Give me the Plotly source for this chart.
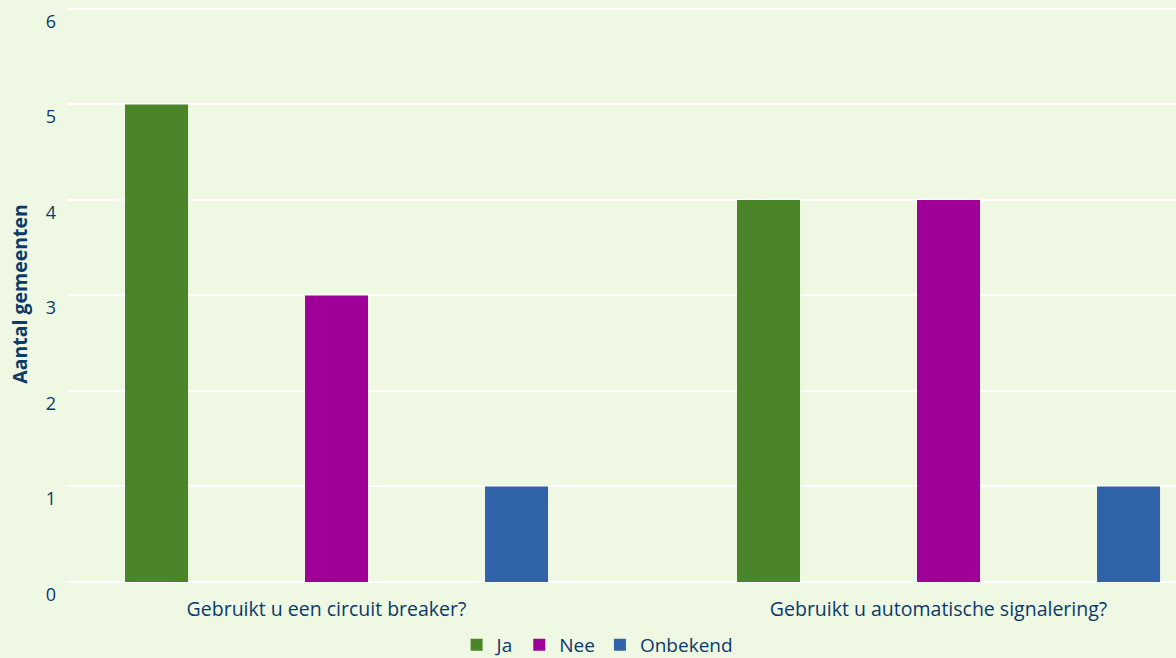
import plotly.graph_objects as go

categories = ["Gebruikt u een circuit breaker?", "Gebruikt u automatische signalering?"]
ja = [5, 4]
nee = [3, 4]
onbekend = [1, 1]
series = [("Ja", ja, "#4a8629"), ("Nee", nee, "#9e0098"), ("Onbekend", onbekend, "#3163a8")]

txt = "#0b3a6b"
font = "Open Sans"

fig = go.Figure()
for name, vals, col in series:
    fig.add_trace(go.Bar(name=name, x=categories, y=vals, marker_color=col, marker_line_width=0))

fig.update_layout(
    width=1176, height=658,
    barmode="group", bargap=0.1176, bargroupgap=0.65,
    paper_bgcolor="#eff8e2", plot_bgcolor="#eff8e2",
    margin=dict(l=67, r=0, t=6, b=76, autoexpand=False),
    font=dict(family=font, color=txt, size=19),
    legend=dict(orientation="h", x=0.478, xanchor="center", y=-0.076, yanchor="top",
                font=dict(size=19, color=txt), traceorder="normal"),
    xaxis=dict(range=[-0.4404, 1.3717], showgrid=False, showline=False, ticks="",
               ticklabelstandoff=13, ticklabelshift=-10,
               tickfont=dict(size=19.5, color=txt), automargin=False),
    yaxis=dict(range=[0, 6.03], dtick=1, tick0=0, showgrid=True, gridcolor="white", gridwidth=1.5,
               zeroline=True, zerolinecolor="white", zerolinewidth=1.5,
               showline=False, ticks="", ticklabelstandoff=10, ticklabeloverflow="allow",
               ticklabelposition="outside bottom",
               tickfont=dict(size=18, color=txt), automargin=False,
               title=dict(text="<b>Aantal gemeenten</b>", font=dict(size=19.5, color=txt), standoff=12)),
)

fig.write_html("out.html")
